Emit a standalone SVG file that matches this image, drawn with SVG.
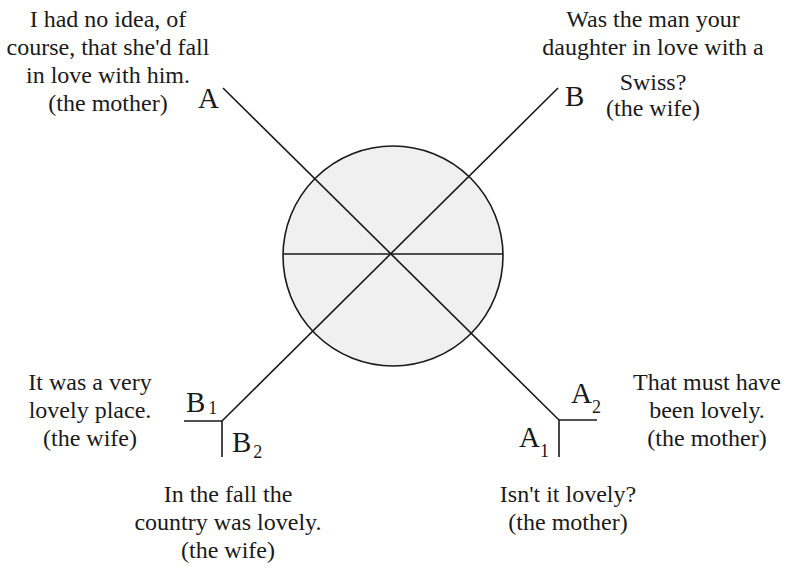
<svg xmlns="http://www.w3.org/2000/svg" width="791" height="570" viewBox="0 0 791 570">
<style>
text{font-family:"Liberation Serif","Times New Roman",serif;fill:#1a1a1a}
.t{font-size:24px;text-anchor:middle}
.l{font-size:29px}
.s{font-size:18px}
.ln{stroke:#1a1a1a;stroke-width:1.6;fill:none}
</style>
<rect width="791" height="570" fill="#ffffff"/>
<g id="circle">
<circle cx="393" cy="256" r="110" fill="#f0f0f0" stroke="#1a1a1a" stroke-width="1.6"/>
</g>
<g id="connectors">
<line class="ln" x1="283" y1="254" x2="503" y2="254"/>
<line class="ln" x1="223" y1="88" x2="559" y2="420"/>
<line class="ln" x1="558" y1="88" x2="222" y2="421"/>
<polyline class="ln" points="597,420 559,420 559,457"/>
<polyline class="ln" points="184,421 222,421 222,457"/>
</g>
<g id="nodeA">
<text class="t" x="108" y="27">I had no idea, of</text>
<text class="t" x="108" y="55">course, that she'd fall</text>
<text class="t" x="108" y="83">in love with him.</text>
<text class="t" x="108" y="111">(the mother)</text>
<text class="l" x="198" y="108">A</text>
</g>
<g id="nodeB">
<text class="t" x="653" y="27">Was the man your</text>
<text class="t" x="653" y="55">daughter in love with a</text>
<text class="t" x="653" y="90">Swiss?</text>
<text class="t" x="653" y="116">(the wife)</text>
<text class="l" x="565" y="106">B</text>
</g>
<g id="nodeB1">
<text class="t" x="90" y="390">It was a very</text>
<text class="t" x="90" y="418">lovely place.</text>
<text class="t" x="90" y="446">(the wife)</text>
<text class="l" x="186" y="412">B<tspan class="s" dx="3" dy="2">1</tspan></text>
</g>
<g id="nodeB2">
<text class="t" x="228" y="502">In the fall the</text>
<text class="t" x="228" y="530">country was lovely.</text>
<text class="t" x="228" y="558">(the wife)</text>
<text class="l" x="232" y="452">B<tspan class="s" dx="2" dy="6">2</tspan></text>
</g>
<g id="nodeA2">
<text class="t" x="707" y="390">That must have</text>
<text class="t" x="707" y="418">been lovely.</text>
<text class="t" x="707" y="446">(the mother)</text>
<text class="l" x="571" y="403">A<tspan class="s" dy="10">2</tspan></text>
</g>
<g id="nodeA1">
<text class="t" x="568" y="502">Isn't it lovely?</text>
<text class="t" x="568" y="530">(the mother)</text>
<text class="l" x="519" y="447">A<tspan class="s" dy="10">1</tspan></text>
</g>
</svg>
